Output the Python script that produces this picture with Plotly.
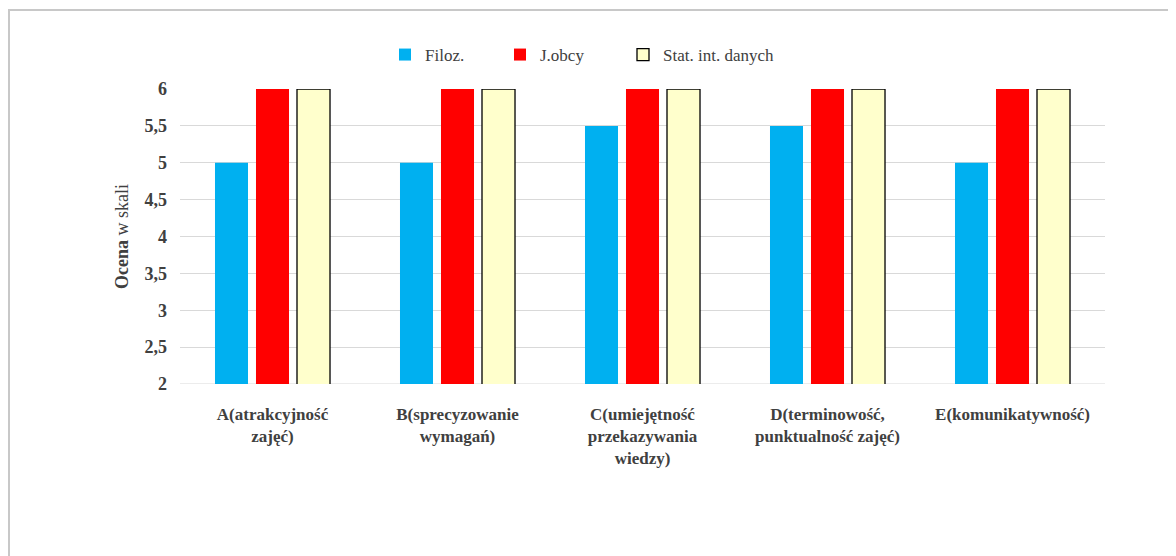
import plotly.graph_objects as go

categories = [
    "A(atrakcyjność<br>zajęć)",
    "B(sprecyzowanie<br>wymagań)",
    "C(umiejętność<br>przekazywania<br>wiedzy)",
    "D(terminowość,<br>punktualność zajęć)",
    "E(komunikatywność)",
]
filoz = [5, 5, 5.5, 5.5, 5]
jobcy = [6, 6, 6, 6, 6]
stat = [6, 6, 6, 6, 6]
y_ticks = [2, 2.5, 3, 3.5, 4, 4.5, 5, 5.5, 6]

font = "Liberation Serif, Times New Roman, serif"
txt = "#404040"

fig = go.Figure()
fig.add_trace(go.Bar(name="Filoz.", x=categories, y=filoz, legend="legend", showlegend=True,
                     marker=dict(color="#00B0F0", line=dict(width=0))))
fig.add_trace(go.Bar(name="J.obcy", x=categories, y=jobcy, legend="legend2", showlegend=True,
                     marker=dict(color="#FF0000", line=dict(width=0))))
fig.add_trace(go.Bar(name="Stat. int. danych", x=categories, y=stat, legend="legend3", showlegend=True,
                     marker=dict(color="#FFFFCC", line=dict(width=1.3, color="#000000"))))

# page has an 8px body margin
OFF = 8
W, H = 1176 - OFF, 556 - OFF
L, R, T, B = 180 - OFF, 71, 89 - OFF, 172
pw, ph = W - L - R, H - T - B


def leg(px):
    return dict(orientation="h", x=(px - OFF - L) / pw, xanchor="left",
                y=1 + (T - (55 - OFF)) / ph, yanchor="middle",
                font=dict(family=font, size=17, color=txt),
                itemwidth=30, bgcolor="rgba(0,0,0,0)")


fig.update_layout(
    width=W, height=H,
    showlegend=True,
    margin=dict(l=L, r=R, t=T, b=B, pad=0),
    paper_bgcolor="white", plot_bgcolor="white",
    barmode="group", bargap=0.335, bargroupgap=0.195,
    separators=", ",
    font=dict(family=font, color=txt, size=16),
    legend=leg(385), legend2=leg(500), legend3=leg(623),
    xaxis=dict(showgrid=False, showline=False, ticks="", ticklabelstandoff=18,
               tickfont=dict(family=font, size=17, color=txt, weight="bold")),
    yaxis=dict(range=[2, 6], tickvals=y_ticks, showgrid=True, gridcolor="#D9D9D9", gridwidth=1,
               zeroline=False, showline=False, ticks="", ticklabelstandoff=12,
               tickfont=dict(family=font, size=18, color=txt, weight="bold"),
               title=dict(text="<b>Ocena</b> w skali", font=dict(family=font, size=18, color=txt),
                          standoff=11)),
    shapes=[dict(type="rect", xref="paper", yref="paper",
                 x0=(1 - L) / pw, x1=(W + 20 - L) / pw,
                 y0=1 + (T - 2) / ph, y1=-(B + 20) / ph,
                 line=dict(color="#C8C8C8", width=2), fillcolor="rgba(0,0,0,0)", layer="below"),
            dict(type="line", xref="paper", yref="y", x0=0, x1=1, y0=2, y1=2,
                 line=dict(color="#D9D9D9", width=1), layer="below")],
)

fig.write_html("out.html")
